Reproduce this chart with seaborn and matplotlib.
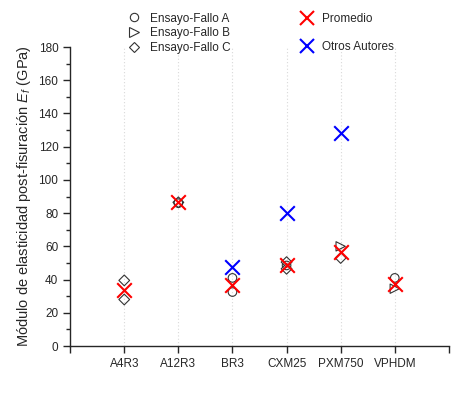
import matplotlib
matplotlib.use("Agg")
import matplotlib.pyplot as plt
import seaborn as sns
import pandas as pd
from matplotlib.lines import Line2D
from matplotlib.ticker import MultipleLocator

sns.set_style("ticks")
plt.rcParams['font.family'] = ['Liberation Sans', 'DejaVu Sans']
plt.rcParams['mathtext.fontset'] = 'custom'
plt.rcParams['mathtext.it'] = 'Liberation Sans:italic'
plt.rcParams['mathtext.rm'] = 'Liberation Sans'

categories = ["A4R3", "A12R3", "BR3", "CXM25", "PXM750", "VPHDM"]

fallo_a_cat = ["A12R3", "BR3", "BR3", "CXM25", "VPHDM"]
fallo_a_val = [86, 41, 32.5, 48.5, 41]

fallo_b_cat = ["PXM750", "VPHDM"]
fallo_b_val = [60, 34.5]

fallo_c_cat = ["A4R3", "A4R3", "A12R3", "CXM25", "CXM25", "PXM750"]
fallo_c_val = [39.5, 28, 86.5, 50.5, 46.5, 53]

promedio_cat = ["A4R3", "A12R3", "BR3", "CXM25", "PXM750", "VPHDM"]
promedio_val = [34, 86.5, 36.5, 48.5, 56.5, 37.5]

otros_cat = ["BR3", "CXM25", "PXM750"]
otros_val = [47.5, 80, 128]

fig = plt.figure(figsize=(4.74, 3.95), dpi=100)
ax = fig.add_axes([0.148, 0.124, 0.799, 0.757])

order_map = {c: i for i, c in enumerate(categories)}
def df(cats, vals):
    return pd.DataFrame({"x": [order_map[c] for c in cats], "y": vals})

edge = "#333333"
sns.scatterplot(data=df(fallo_a_cat, fallo_a_val), x="x", y="y", ax=ax, marker="o",
                s=38, facecolor="none", edgecolor=edge, linewidth=0.8, zorder=3)
sns.scatterplot(data=df(fallo_b_cat, fallo_b_val), x="x", y="y", ax=ax, marker=">",
                s=45, facecolor="none", edgecolor=edge, linewidth=0.8, zorder=3)
sns.scatterplot(data=df(fallo_c_cat, fallo_c_val), x="x", y="y", ax=ax, marker="D",
                s=30, facecolor="none", edgecolor=edge, linewidth=0.8, zorder=3)
sns.scatterplot(data=df(promedio_cat, promedio_val), x="x", y="y", ax=ax, marker="x",
                s=110, color="#ff0000", linewidth=1.5, zorder=4)
sns.scatterplot(data=df(otros_cat, otros_val), x="x", y="y", ax=ax, marker="x",
                s=110, color="#0000ff", linewidth=1.5, zorder=4)

ax.set_xlim(-1, 6)
ax.set_ylim(0, 180)
ax.set_xticks(range(-1, 7))
ax.set_xticklabels([""] + categories + [""], fontsize=8.5)
ax.yaxis.set_major_locator(MultipleLocator(20))
ax.yaxis.set_minor_locator(MultipleLocator(10))
ax.tick_params(axis="y", labelsize=8.5, length=5, width=1, direction="out")
ax.tick_params(axis="y", which="minor", length=3, width=1)
ax.tick_params(axis="x", length=5, width=1, direction="out")
for i in range(len(categories)):
    ax.axvline(i, color="#d9d9d9", linestyle=(0, (1, 2)), linewidth=0.8, zorder=0)
sns.despine(ax=ax)
ax.spines["left"].set_linewidth(1)
ax.spines["bottom"].set_linewidth(1)
ax.set_xlabel("")
ax.set_ylabel(r"Módulo de elasticidad post-fisuración $E_f$ (GPa)", fontsize=10.5)

h1 = [Line2D([], [], marker="o", linestyle="none", markerfacecolor="none",
             markeredgecolor=edge, markersize=6, markeredgewidth=0.8),
      Line2D([], [], marker=">", linestyle="none", markerfacecolor="none",
             markeredgecolor=edge, markersize=6.5, markeredgewidth=0.8),
      Line2D([], [], marker="D", linestyle="none", markerfacecolor="none",
             markeredgecolor=edge, markersize=5.5, markeredgewidth=0.8)]
leg1 = fig.legend(h1, ["Ensayo-Fallo A", "Ensayo-Fallo B", "Ensayo-Fallo C"],
                  loc="upper left", bbox_to_anchor=(0.257, 0.98), frameon=False,
                  fontsize=8.5, handletextpad=0.8, labelspacing=0.22,
                  handlelength=1.2, borderaxespad=0)
h2 = [Line2D([], [], marker="x", linestyle="none", color="#ff0000", markersize=10, markeredgewidth=1.5),
      Line2D([], [], marker="x", linestyle="none", color="#0000ff", markersize=10, markeredgewidth=1.5)]
leg2 = fig.legend(h2, ["Promedio", "Otros Autores"], loc="upper left",
                  bbox_to_anchor=(0.622, 0.978), frameon=False, fontsize=8.5,
                  handletextpad=0.7, labelspacing=1.35, handlelength=1.2, borderaxespad=0)

fig.savefig("out.png", dpi=100)
